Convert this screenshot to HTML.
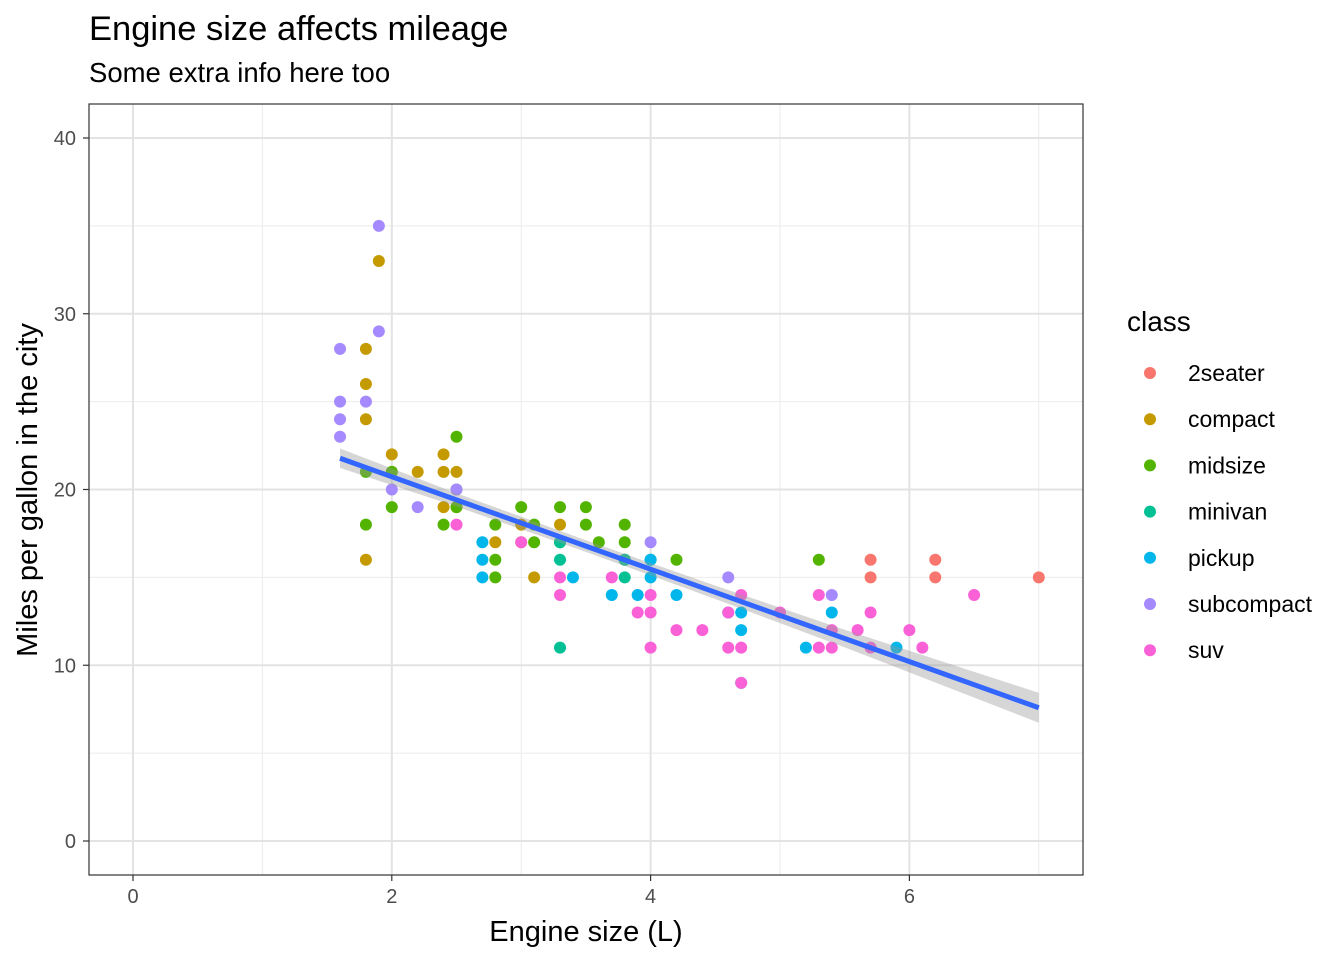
<!DOCTYPE html>
<html><head><meta charset="utf-8"><style>
body{margin:0;background:#fff}
svg{display:block;font-family:"Liberation Sans",Arial,sans-serif}
</style></head><body>
<svg id="chart" width="1344" height="960">
<text x="89" y="40" font-size="34.5" fill="#000">Engine size affects mileage</text>
<text x="89" y="82" font-size="27.5" fill="#000">Some extra info here too</text>
<g id="grid"></g><g id="pts"></g><g id="fit"></g>
<rect x="89" y="104" width="994" height="771" fill="none" stroke="#333" stroke-width="1.2"/>
<g id="axes"></g>
<text x="586" y="941" font-size="29" text-anchor="middle">Engine size (L)</text>
<text transform="translate(37,490) rotate(-90)" font-size="29" text-anchor="middle">Miles per gallon in the city</text>
<g id="legend"></g>
</svg>
<script>
const classes=["2seater","compact","midsize","minivan","pickup","subcompact","suv"];
const colors=["#F8766D","#C49A00","#53B400","#00C094","#00B6EB","#A58AFF","#FB61D7"];
const displ2seater=[5.7,5.7,6.2,6.2,7];
const cty2seater=[16,15,16,15,15];
const displCompact=[1.8,1.8,1.8,1.8,1.9,2,2,2.2,2.4,2.4,2.4,2.5,2.5,2.8,3,3.1,3.3,3];
const ctyCompact=[28,26,24,16,33,22,21,21,22,21,19,21,19,17,18,15,18,17];
const displMidsize=[1.8,1.8,2,2,2.4,2.5,2.5,2.8,2.8,2.8,3,3.1,3.1,3.3,3.3,3.5,3.5,3.6,3.8,3.8,3.8,4.2,5.3,2.5];
const ctyMidsize=[21,18,21,19,18,23,20,18,16,15,19,18,17,19,17,19,18,17,18,17,16,16,16,19];
const displMinivan=[3.3,3.3,3.3,3.8,3.8,4];
const ctyMinivan=[17,16,11,16,15,16];
const displPickup=[2.7,2.7,2.7,3.4,3.7,3.9,4,4,4.2,4.6,4.7,4.7,4.7,5.2,5.4,5.9];
const ctyPickup=[17,16,15,15,14,14,16,15,14,13,13,12,9,11,13,11];
const displSubcompact=[1.6,1.6,1.6,1.6,1.8,1.9,1.9,2,2.2,2.5,4,4.6,5.4];
const ctySubcompact=[28,25,24,23,25,35,29,20,19,20,17,15,14];
const displSuv=[2.5,3,3.3,3.3,3.7,3.9,4,4,4,4.2,4.4,4.6,4.6,4.7,4.7,4.7,5,5.3,5.3,5.4,5.4,5.6,5.7,5.7,6,6.1,6.5];
const ctySuv=[18,17,15,14,15,13,14,13,11,12,12,13,11,14,11,9,13,14,11,12,11,12,13,11,12,11,14];
const fitX=[1.6,2.5,3.5,4.5,5.5,7];
const fitY=[21.78,19.41,16.78,14.15,11.52,7.58];
const fitSe=[0.55,0.38,0.33,0.38,0.5,0.85];
const xTicks=[0,2,4,6];const xMinor=[1,3,5,7];
const yTicks=[0,10,20,30,40];const yMinor=[5,15,25,35];
const series=[[displ2seater,cty2seater],[displCompact,ctyCompact],[displMidsize,ctyMidsize],[displMinivan,ctyMinivan],[displPickup,ctyPickup],[displSubcompact,ctySubcompact],[displSuv,ctySuv]];
const X=v=>133+v*129.4, Y=v=>841-v*17.575;
const NS="http://www.w3.org/2000/svg";
function mk(p,t,a){const e=document.createElementNS(NS,t);for(const k in a)e.setAttribute(k,a[k]);p.appendChild(e);return e;}
const grid=document.getElementById('grid');
xMinor.forEach(v=>{const e=mk(grid,'line',{x1:X(v),x2:X(v),y1:104,y2:875,stroke:'#EBEBEB','stroke-width':1});

});
yMinor.forEach(v=>{const e=mk(grid,'line',{x1:89,x2:1083,y1:Y(v),y2:Y(v),stroke:'#EBEBEB','stroke-width':1});

});
xTicks.forEach(v=>{const e=mk(grid,'line',{x1:X(v),x2:X(v),y1:104,y2:875,stroke:'#E3E3E3','stroke-width':2});

});
yTicks.forEach(v=>{const e=mk(grid,'line',{x1:89,x2:1083,y1:Y(v),y2:Y(v),stroke:'#E3E3E3','stroke-width':2});

});
const pts=document.getElementById('pts');
series.forEach((s,i)=>{s[0].forEach((x,j)=>{const c=mk(pts,'circle',{cx:X(x),cy:Y(s[1][j]),r:6,fill:colors[i]});

});});
const fit=document.getElementById('fit');
let band=fitX.map((x,i)=>X(x)+','+Y(fitY[i]+fitSe[i])).join(' ')+' '+fitX.slice().reverse().map((x,k)=>{const i=fitX.length-1-k;return X(x)+','+Y(fitY[i]-fitSe[i]);}).join(' ');
const b=mk(fit,'polygon',{points:band,fill:'#999',opacity:0.4});


const l=mk(fit,'polyline',{points:fitX.map((x,i)=>X(x)+','+Y(fitY[i])).join(' '),fill:'none',stroke:'#3366FF','stroke-width':5});


const ax=document.getElementById('axes');
xTicks.forEach(v=>{mk(ax,'line',{x1:X(v),x2:X(v),y1:875,y2:881,stroke:'#333','stroke-width':1.2});
const t=mk(ax,'text',{x:X(v),y:903,'font-size':20,'text-anchor':'middle',fill:'#4D4D4D'});t.textContent=v;

});
yTicks.forEach(v=>{mk(ax,'line',{x1:83,x2:89,y1:Y(v),y2:Y(v),stroke:'#333','stroke-width':1.2});
const t=mk(ax,'text',{x:76,y:Y(v)+7,'font-size':20,'text-anchor':'end',fill:'#4D4D4D'});t.textContent=v;

});
const lg=document.getElementById('legend');
const lt=mk(lg,'text',{x:1127,y:331,'font-size':28});lt.textContent='class';


classes.forEach((c,i)=>{const y=373+i*46.2;
const d=mk(lg,'circle',{cx:1150,cy:y,r:6,fill:colors[i]});


const t=mk(lg,'text',{x:1188,y:y+8,'font-size':23});t.textContent=c;

});
</script>
</body></html>
